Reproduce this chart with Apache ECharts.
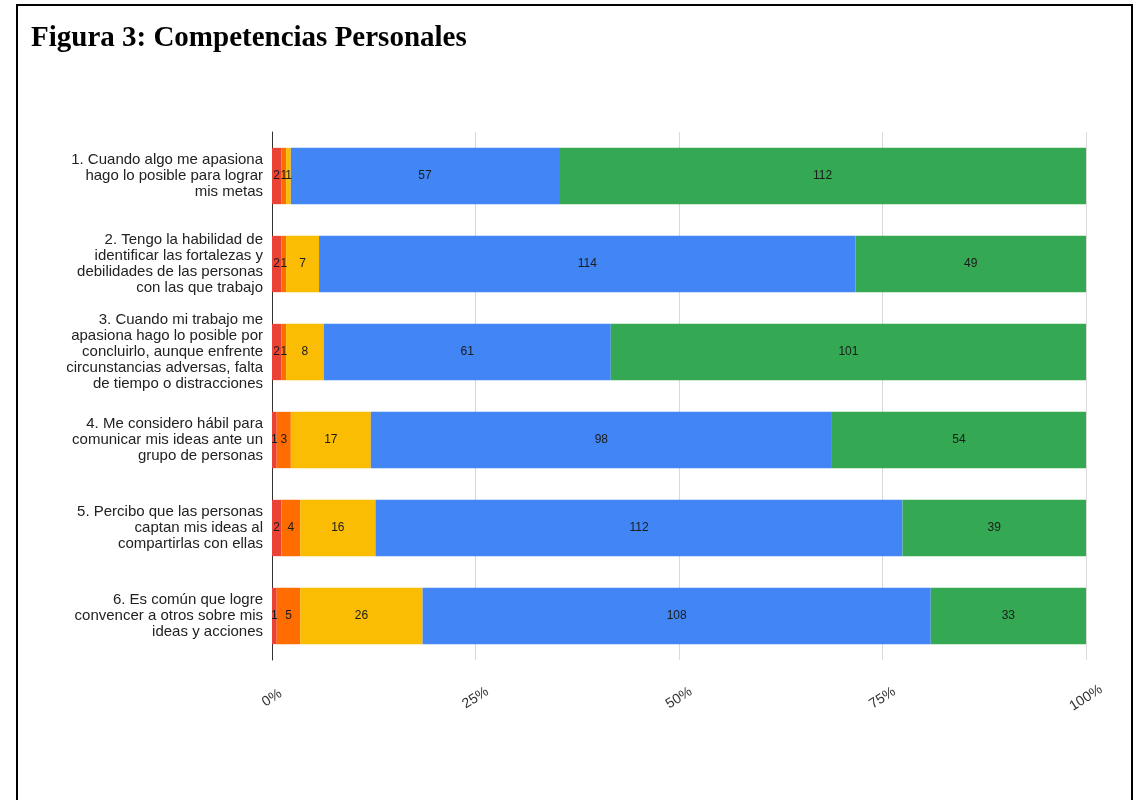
<!DOCTYPE html>
<html>
<head>
	<meta charset="utf-8" />
	<title>Figura 3: Competencias Personales</title>
	<script src="https://cdn.jsdelivr.net/npm/echarts@6/dist/echarts.min.js"></script>
	<style>
		html, body { margin: 0; padding: 0; background: #fff; }
		#frame { position: absolute; left: 16px; top: 4px; width: 1113px; height: 820px; border: 2px solid #000; }
		#main { position: absolute; left: 0; top: 0; width: 1134px; height: 800px; }
	</style>
</head>
<body>
	<div id="frame"></div>
	<div id="main"></div>
	<script type="text/javascript">
		var preguntas = [
			'1. Cuando algo me apasiona\nhago lo posible para lograr\nmis metas',
			'2. Tengo la habilidad de\nidentificar las fortalezas y\ndebilidades de las personas\ncon las que trabajo',
			'3. Cuando mi trabajo me\napasiona hago lo posible por\nconcluirlo, aunque enfrente\ncircunstancias adversas, falta\nde tiempo o distracciones',
			'4. Me considero hábil para\ncomunicar mis ideas ante un\ngrupo de personas',
			'5. Percibo que las personas\ncaptan mis ideas al\ncompartirlas con ellas',
			'6. Es común que logre\nconvencer a otros sobre mis\nideas y acciones'
		];
		// respuestas por pregunta, de la escala mas baja a la mas alta
		var rojo = [2, 2, 2, 1, 2, 1];
		var naranja = [1, 1, 1, 3, 4, 5];
		var amarillo = [1, 7, 8, 17, 16, 26];
		var azul = [57, 114, 61, 98, 112, 108];
		var verde = [112, 49, 101, 54, 39, 33];
		var ticks = ['0%', '25%', '50%', '75%', '100%'];

		var grupos = [rojo, naranja, amarillo, azul, verde];
		var colores = ['#ea4335', '#ff6d01', '#fbbc04', '#4285f4', '#34a853'];

		var totales = [];
		for (var i = 0; i < preguntas.length; i++) {
			var t = 0;
			for (var g = 0; g < grupos.length; g++) t += grupos[g][i];
			totales.push(t);
		}

		var series = [];
		for (var g = 0; g < grupos.length; g++) {
			(function(g) {
				series.push({
					type: 'bar',
					stack: 'total',
					barWidth: '64%',
					itemStyle: { color: colores[g] },
					label: {
						show: true,
						position: 'inside',
						color: '#1b1b1b',
						fontFamily: 'Liberation Sans',
						fontSize: 12,
						formatter: function(p) { return grupos[g][p.dataIndex]; }
					},
					data: grupos[g].map(function(v, i) { return v / totales[i] * 100; })
				});
			})(g);
		}

		var myChart = echarts.init(document.getElementById('main'));
		var option = {
			animation: false,
			title: {
				text: 'Figura 3: Competencias Personales',
				left: 26,
				top: 19,
				textStyle: { fontFamily: 'Liberation Serif', fontWeight: 'bold', fontSize: 29, color: '#000' }
			},
			grid: { left: 272, right: 48, top: 132, bottom: 140 },
			xAxis: {
				type: 'value',
				min: 0,
				max: 100,
				interval: 25,
				axisLine: { show: false },
				axisTick: { show: false },
				splitLine: { lineStyle: { color: '#d9d9d9', width: 1 } },
				axisLabel: {
					rotate: 33,
					align: 'center',
					verticalAlign: 'middle',
					margin: 38,
					color: '#333',
					fontFamily: 'Liberation Sans',
					fontSize: 14,
					formatter: function(v) { return ticks[v / 25]; }
				}
			},
			yAxis: {
				type: 'category',
				inverse: true,
				data: preguntas,
				axisLine: { show: true, lineStyle: { color: '#333', width: 1 } },
				axisTick: { show: false },
				axisLabel: {
					margin: 9,
					color: '#222',
					fontFamily: 'Liberation Sans',
					fontSize: 15,
					lineHeight: 16,
					align: 'right'
				}
			},
			series: series
		};
		myChart.setOption(option);
	</script>
</body>
</html>
